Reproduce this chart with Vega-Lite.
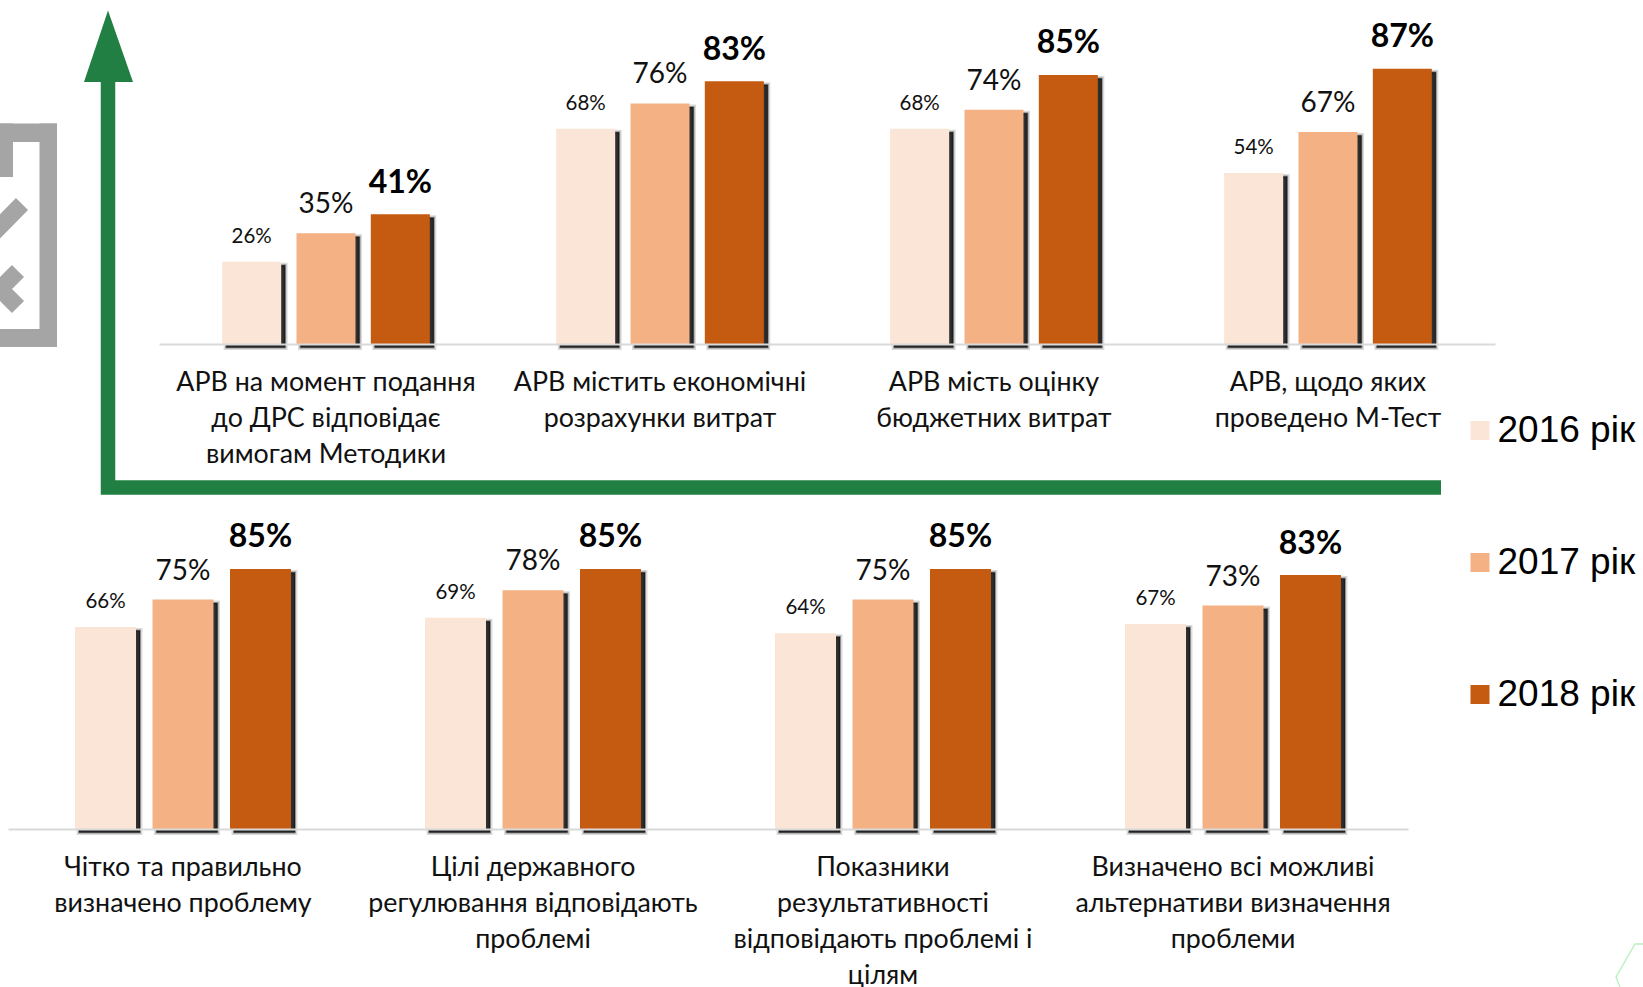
{
"$schema":"https://vega.github.io/schema/vega-lite/v6.json",
"padding":0,"background":"white","bounds":"flush","spacing":0,
"resolve":{"scale":{"xOffset":"independent"}},
"config":{"view":{"stroke":null},"axis":{"grid":false}},
"datasets":{
"top":[
{"cat":"АРВ на момент подання|до ДРС відповідає|вимогам Методики","year":"2016 рік","value":0.26},
{"cat":"АРВ на момент подання|до ДРС відповідає|вимогам Методики","year":"2017 рік","value":0.35},
{"cat":"АРВ на момент подання|до ДРС відповідає|вимогам Методики","year":"2018 рік","value":0.41},
{"cat":"АРВ містить економічні|розрахунки витрат","year":"2016 рік","value":0.68},
{"cat":"АРВ містить економічні|розрахунки витрат","year":"2017 рік","value":0.76},
{"cat":"АРВ містить економічні|розрахунки витрат","year":"2018 рік","value":0.83},
{"cat":"АРВ мість оцінку|бюджетних витрат","year":"2016 рік","value":0.68},
{"cat":"АРВ мість оцінку|бюджетних витрат","year":"2017 рік","value":0.74},
{"cat":"АРВ мість оцінку|бюджетних витрат","year":"2018 рік","value":0.85},
{"cat":"АРВ, щодо яких|проведено М-Тест","year":"2016 рік","value":0.54},
{"cat":"АРВ, щодо яких|проведено М-Тест","year":"2017 рік","value":0.67},
{"cat":"АРВ, щодо яких|проведено М-Тест","year":"2018 рік","value":0.87}],
"bottom":[
{"cat":"Чітко та правильно|визначено проблему","year":"2016 рік","value":0.66},
{"cat":"Чітко та правильно|визначено проблему","year":"2017 рік","value":0.75},
{"cat":"Чітко та правильно|визначено проблему","year":"2018 рік","value":0.85},
{"cat":"Цілі державного|регулювання відповідають|проблемі","year":"2016 рік","value":0.69},
{"cat":"Цілі державного|регулювання відповідають|проблемі","year":"2017 рік","value":0.78},
{"cat":"Цілі державного|регулювання відповідають|проблемі","year":"2018 рік","value":0.85},
{"cat":"Показники|результативності|відповідають проблемі і|цілям","year":"2016 рік","value":0.64},
{"cat":"Показники|результативності|відповідають проблемі і|цілям","year":"2017 рік","value":0.75},
{"cat":"Показники|результативності|відповідають проблемі і|цілям","year":"2018 рік","value":0.85},
{"cat":"Визначено всі можливі|альтернативи визначення|проблеми","year":"2016 рік","value":0.67},
{"cat":"Визначено всі можливі|альтернативи визначення|проблеми","year":"2017 рік","value":0.73},
{"cat":"Визначено всі можливі|альтернативи визначення|проблеми","year":"2018 рік","value":0.83}],
"axisline":[{"a":108,"b":82,"i":1},{"a":108,"b":487.5,"i":2},{"a":1441,"b":487.5,"i":3}],
"head":[{"a":84,"b":82,"b2":82},{"a":108,"b":10.5,"b2":82},{"a":133,"b":82,"b2":82}],
"frame":[
{"a":0,"a2":57,"b":123.5,"b2":142},{"a":39.5,"a2":57,"b":123.5,"b2":347},{"a":0,"a2":57,"b":329,"b2":347},{"a":0,"a2":13,"b":123.5,"b2":177}],
"icon":[
{"part":"check","i":1,"a":-12,"b":238.5},{"part":"check","i":2,"a":22,"b":204},
{"part":"cross","i":1,"a":18,"b":271},{"part":"cross","i":2,"a":0,"b":289},{"part":"cross","i":3,"a":18,"b":307}],
"hex":[{"a":1643,"b":944,"i":1},{"a":1635,"b":944,"i":2},{"a":1616,"b":977,"i":3},{"a":1620,"b":987,"i":4}]
},
"vconcat":[
{"width":1495,"height":344,
 "resolve":{"scale":{"x":"independent","y":"independent"}},
 "layer":[
 {"encoding":{
   "x":{"field":"a","type":"quantitative","axis":null,"scale":{"domain":[0,1495],"range":[0,1495],"nice":false,"zero":false}},
   "y":{"field":"b","type":"quantitative","axis":null,"scale":{"domain":[0,344],"range":[0,344],"nice":false,"zero":false}}},
  "layer":[
   {"data":{"name":"frame"},"mark":{"type":"rect","color":"#a5a5a5"},"encoding":{"x2":{"field":"a2"},"y2":{"field":"b2"}}},
   {"data":{"name":"icon"},"mark":{"type":"line","color":"#a5a5a5","strokeWidth":17,"strokeJoin":"miter","strokeCap":"butt","clip":true},"encoding":{"detail":{"field":"part"},"order":{"field":"i"}}},
   {"data":{"name":"axisline"},"mark":{"type":"line","color":"#217f43","strokeWidth":14.5,"strokeJoin":"miter","strokeCap":"butt"},"encoding":{"order":{"field":"i"}}},
   {"data":{"name":"head"},"mark":{"type":"area","color":"#217f43","opacity":1},"encoding":{"y2":{"field":"b2"}}}
  ]},
 {"data":{"name":"top"},
  "resolve":{"scale":{"xOffset":"independent"}},
  "encoding":{
   "x":{"field":"cat","type":"nominal","sort":null,"title":null,
     "scale":{"range":[159,1495],"paddingInner":0,"paddingOuter":0},
     "axis":{"labelExpr":"split(datum.value,'|')","labelAngle":0,"ticks":false,"labelFont":"Lato","labelFontSize":26.8,"labelColor":"#111111","labelLineHeight":36,"labelPadding":38.7,"labelLimit":0,"labelOverlap":false,"labelBaseline":"middle","domainColor":"#d9d9d9","domainWidth":2,"zindex":1}},
   "xOffset":{"field":"year","type":"nominal","sort":null,"scale":{"type":"band","domain":["2016 рік","2017 рік","2018 рік"],"paddingInner":0.206,"paddingOuter":0.85}},
   "y":{"field":"value","type":"quantitative","axis":null,"scale":{"domain":[0,1],"range":[344,27.5],"nice":false}}},
  "layer":[
   {"mark":{"type":"bar","color":"#000000","fillOpacity":0.14,"stroke":"#000000","strokeOpacity":0.14,"strokeWidth":5,"yOffset":3.5,"y2Offset":3.5},"encoding":{"xOffset":{"field":"year","type":"nominal","sort":null,"scale":{"type":"band","domain":["2016 рік","2017 рік","2018 рік"],"range":[4,338],"paddingInner":0.206,"paddingOuter":0.85}}}},
   {"mark":{"type":"bar","color":"#000000","fillOpacity":0.3,"stroke":"#000000","strokeOpacity":0.35,"strokeWidth":2,"yOffset":3.5,"y2Offset":3.5},"encoding":{"xOffset":{"field":"year","type":"nominal","sort":null,"scale":{"type":"band","domain":["2016 рік","2017 рік","2018 рік"],"range":[4,338],"paddingInner":0.206,"paddingOuter":0.85}}}},
   {"mark":{"type":"bar","color":"#000000","opacity":0.68,"yOffset":3.5,"y2Offset":3.5},"encoding":{"xOffset":{"field":"year","type":"nominal","sort":null,"scale":{"type":"band","domain":["2016 рік","2017 рік","2018 рік"],"range":[4,338],"paddingInner":0.206,"paddingOuter":0.85}}}},
   {"mark":{"type":"bar"},"encoding":{"color":{"field":"year","type":"nominal","scale":{"domain":["2016 рік","2017 рік","2018 рік"],"range":["#FBE5D6","#F4B183","#C55A11"]},
     "legend":{"title":null,"orient":"none","legendX":1461.5,"legendY":412,"symbolType":"square","symbolSize":361,"symbolStrokeWidth":0,"labelFont":"Liberation Sans","labelFontSize":37,"labelColor":"#000000","rowPadding":94,"labelOffset":-1,"padding":0}}}},
   {"transform":[{"filter":"datum.year==='2016 рік'"}],"mark":{"type":"text","font":"Lato","fontSize":20.5,"baseline":"alphabetic","dy":-19,"color":"#111111"},"encoding":{"text":{"field":"value","type":"quantitative","format":".0%"}}},
   {"transform":[{"filter":"datum.year==='2017 рік'"}],"mark":{"type":"text","font":"Lato","fontSize":28,"baseline":"alphabetic","dy":-20,"color":"#111111"},"encoding":{"text":{"field":"value","type":"quantitative","format":".0%"}}},
   {"transform":[{"filter":"datum.year==='2018 рік'"}],"mark":{"type":"text","font":"Lato","fontSize":32,"fontWeight":"bold","baseline":"alphabetic","dy":-21.5,"color":"#000000"},"encoding":{"text":{"field":"value","type":"quantitative","format":".0%"}}}
  ]}
 ]},
{"width":1408,"height":485,
 "resolve":{"scale":{"x":"independent","y":"independent"}},
 "layer":[
 {"data":{"name":"hex"},"mark":{"type":"line","color":"#b7efbd","strokeWidth":1.3},
  "encoding":{
   "x":{"field":"a","type":"quantitative","axis":null,"scale":{"domain":[0,1408],"range":[0,1408],"nice":false,"zero":false}},
   "y":{"field":"b","type":"quantitative","axis":null,"scale":{"domain":[344,829],"range":[0,485],"nice":false,"zero":false}},
   "order":{"field":"i"}}},
 {"data":{"name":"bottom"},
  "resolve":{"scale":{"xOffset":"independent"}},
  "encoding":{
   "x":{"field":"cat","type":"nominal","sort":null,"title":null,
     "scale":{"range":[8,1408],"paddingInner":0,"paddingOuter":0},
     "axis":{"labelExpr":"split(datum.value,'|')","labelAngle":0,"ticks":false,"labelFont":"Lato","labelFontSize":26.8,"labelColor":"#111111","labelLineHeight":36,"labelPadding":38.7,"labelLimit":0,"labelOverlap":false,"labelBaseline":"middle","domainColor":"#d9d9d9","domainWidth":2,"zindex":1}},
   "xOffset":{"field":"year","type":"nominal","sort":null,"scale":{"type":"band","domain":["2016 рік","2017 рік","2018 рік"],"paddingInner":0.213,"paddingOuter":0.865}},
   "y":{"field":"value","type":"quantitative","axis":null,"scale":{"domain":[0,1],"range":[485,179],"nice":false}}},
  "layer":[
   {"mark":{"type":"bar","color":"#000000","fillOpacity":0.14,"stroke":"#000000","strokeOpacity":0.14,"strokeWidth":5,"yOffset":3.5,"y2Offset":3.5},"encoding":{"xOffset":{"field":"year","type":"nominal","sort":null,"scale":{"type":"band","domain":["2016 рік","2017 рік","2018 рік"],"range":[4,354],"paddingInner":0.213,"paddingOuter":0.865}}}},
   {"mark":{"type":"bar","color":"#000000","fillOpacity":0.3,"stroke":"#000000","strokeOpacity":0.35,"strokeWidth":2,"yOffset":3.5,"y2Offset":3.5},"encoding":{"xOffset":{"field":"year","type":"nominal","sort":null,"scale":{"type":"band","domain":["2016 рік","2017 рік","2018 рік"],"range":[4,354],"paddingInner":0.213,"paddingOuter":0.865}}}},
   {"mark":{"type":"bar","color":"#000000","opacity":0.68,"yOffset":3.5,"y2Offset":3.5},"encoding":{"xOffset":{"field":"year","type":"nominal","sort":null,"scale":{"type":"band","domain":["2016 рік","2017 рік","2018 рік"],"range":[4,354],"paddingInner":0.213,"paddingOuter":0.865}}}},
   {"mark":{"type":"bar"},"encoding":{"color":{"field":"year","type":"nominal"}}},
   {"transform":[{"filter":"datum.year==='2016 рік'"}],"mark":{"type":"text","font":"Lato","fontSize":20.5,"baseline":"alphabetic","dy":-19,"color":"#111111"},"encoding":{"text":{"field":"value","type":"quantitative","format":".0%"}}},
   {"transform":[{"filter":"datum.year==='2017 рік'"}],"mark":{"type":"text","font":"Lato","fontSize":28,"baseline":"alphabetic","dy":-20,"color":"#111111"},"encoding":{"text":{"field":"value","type":"quantitative","format":".0%"}}},
   {"transform":[{"filter":"datum.year==='2018 рік'"}],"mark":{"type":"text","font":"Lato","fontSize":32,"fontWeight":"bold","baseline":"alphabetic","dy":-21.5,"color":"#000000"},"encoding":{"text":{"field":"value","type":"quantitative","format":".0%"}}}
  ]}
 ]}
]
}
